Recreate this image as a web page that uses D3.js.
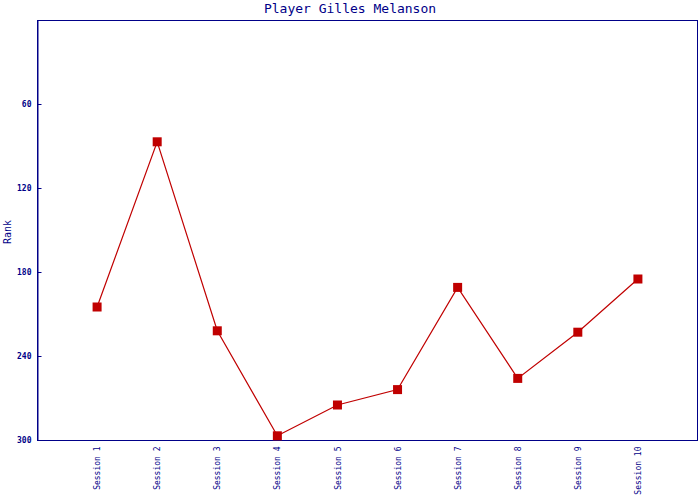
<!DOCTYPE html>
<html><head><meta charset="utf-8">
<script src="https://cdn.jsdelivr.net/npm/d3@7"></script>
<style>body{margin:0;background:#fff}svg{display:block}</style>
</head><body>
<svg id="c" width="700" height="500"></svg>
<script>
const categories = ["Session 1","Session 2","Session 3","Session 4","Session 5","Session 6","Session 7","Session 8","Session 9","Session 10"];
const ranks = [205, 87, 222, 297, 275, 264, 191, 256, 223, 185];
const yTicks = [60, 120, 180, 240, 300];
const title = "Player Gilles Melanson";
const yLabel = "Rank";

const navy = "#000088", red = "#c00000";
const m = {l: 37, r: 2, t: 20, b: 60};
const W = 700, H = 500;
const svg = d3.select("#c");
const x = d3.scalePoint().domain(categories).range([m.l, W - m.r]).padding(1);
const y = d3.scaleLinear().domain([0, 300]).range([m.t, H - m.b]);

svg.append("rect").attr("x", m.l + 0.5).attr("y", m.t + 0.5)
  .attr("width", W - m.r - m.l - 1).attr("height", H - m.b - m.t)
  .attr("fill", "none").attr("stroke", navy).attr("stroke-width", 1);

const ya = svg.append("g").attr("transform", `translate(${m.l + 0.5},0)`)
  .call(d3.axisLeft(y).tickValues(yTicks).tickSize(-4).tickPadding(6));
ya.select(".domain").attr("stroke", navy);
ya.selectAll(".tick line").attr("stroke", navy);
ya.selectAll("text").attr("fill", navy).style("font-family", "DejaVu Sans Mono").style("font-size", "8px").style("font-weight", "bold");

const xa = svg.append("g").attr("transform", `translate(0,${H - m.b + 0.5})`)
  .call(d3.axisBottom(x).tickSize(0).tickPadding(0));
xa.select(".domain").remove();
xa.selectAll("text").attr("fill", navy).style("font-family", "DejaVu Sans Mono").style("font-size", "8px")
  .attr("transform", "rotate(-90)").attr("text-anchor", "end").attr("x", -6).attr("y", 0).attr("dy", "0.32em");

svg.append("text").attr("x", 350).attr("y", 13).attr("text-anchor", "middle")
  .attr("fill", navy).style("font-family", "DejaVu Sans Mono").style("font-size", "13px").text(title);
svg.append("text").attr("transform", "translate(11,232) rotate(-90)").attr("text-anchor", "middle")
  .attr("fill", navy).style("font-family", "DejaVu Sans Mono").style("font-size", "10px").text(yLabel);

const line = d3.line().x((d, i) => x(categories[i])).y(d => y(d));
svg.append("path").datum(ranks).attr("d", line).attr("fill", "none").attr("stroke", red).attr("stroke-width", 1.2);
svg.selectAll("rect.pt").data(ranks).join("rect").attr("class", "pt")
  .attr("x", (d, i) => x(categories[i]) - 4.5).attr("y", d => y(d) - 4.5)
  .attr("width", 9).attr("height", 9).attr("fill", red);
</script>
</body></html>
